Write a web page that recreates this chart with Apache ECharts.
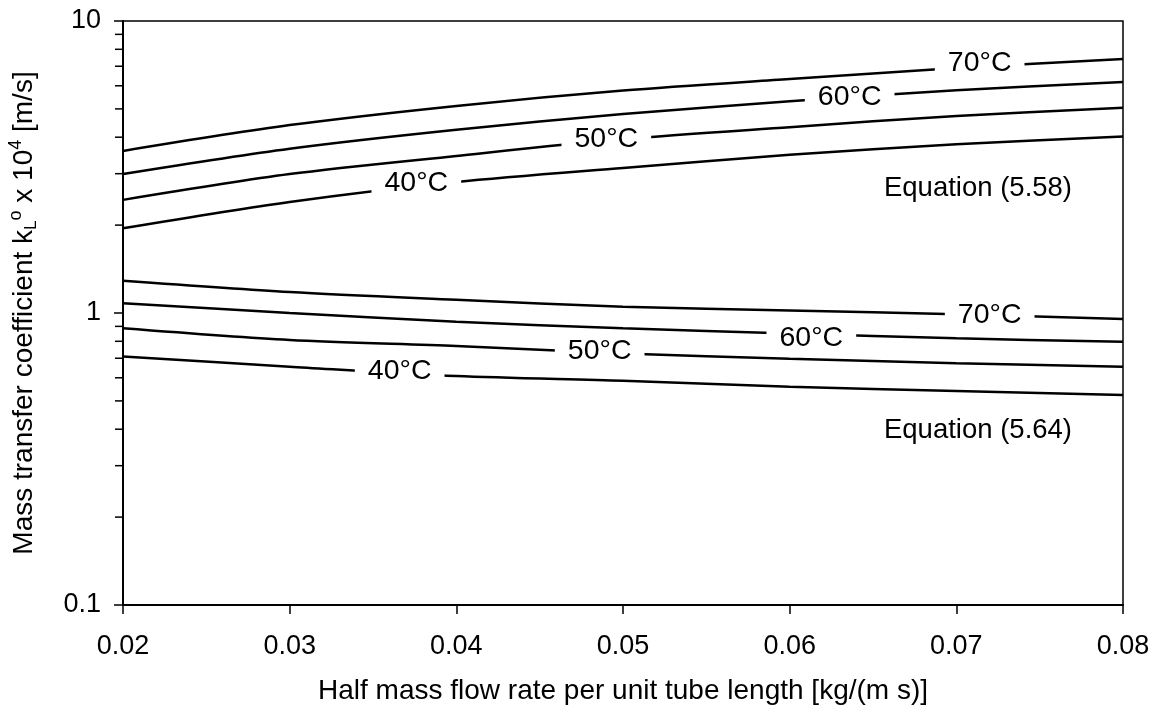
<!DOCTYPE html>
<html>
<head>
<meta charset="utf-8">
<script src="https://cdn.jsdelivr.net/npm/echarts@6/dist/echarts.min.js"></script>
<style>
  html, body { margin: 0; padding: 0; background: #fff; }
  #chart { width: 1161px; height: 707px; }
</style>
</head>
<body>
<div id="chart"></div>
<script>
// half mass flow rate per unit tube length [kg/(m s)]
var flowRate = [0.02, 0.03, 0.04, 0.05, 0.06, 0.07, 0.08];

// Equation (5.58), kL x 10^4 [m/s]
var eq558_70 = [3.59, 4.40, 5.12, 5.78, 6.33, 6.90, 7.41];
var eq558_60 = [2.99, 3.65, 4.24, 4.80, 5.31, 5.79, 6.18];
var eq558_50 = [2.44, 2.99, 3.45, 3.94, 4.33, 4.73, 5.05];
var eq558_40 = [1.95, 2.40, 2.81, 3.14, 3.48, 3.78, 4.02];

// Equation (5.64)
var eq564_70 = [1.29, 1.18, 1.11, 1.05, 1.02, 0.99, 0.954];
var eq564_60 = [1.08, 1.00, 0.934, 0.886, 0.851, 0.819, 0.797];
var eq564_50 = [0.886, 0.808, 0.771, 0.727, 0.697, 0.673, 0.655];
var eq564_40 = [0.709, 0.655, 0.608, 0.586, 0.559, 0.541, 0.524];

// minor ticks of the log axis
var minorTicks = [0.2, 0.3, 0.4, 0.5, 0.6, 0.7, 0.8, 0.9, 2, 3, 4, 5, 6, 7, 8, 9];

// inline curve labels: [x, y, text]
var curveLabels = [
  [0.0714, 7.17, '70°C'], [0.0636, 5.50, '60°C'], [0.0490, 3.93, '50°C'], [0.0376, 2.78, '40°C'],
  [0.0720, 0.984, '70°C'], [0.0613, 0.819, '60°C'], [0.0486, 0.743, '50°C'], [0.0366, 0.634, '40°C']
];
var eqLabels = [[0.0713, 2.68, 'Equation (5.58)'], [0.0713, 0.397, 'Equation (5.64)']];

var FONT = 'Liberation Sans, Arial, sans-serif';

function pairs(ys) {
  return flowRate.map(function (x, i) { return [x, ys[i]]; });
}
function curve(ys) {
  return {
    type: 'line', data: pairs(ys), smooth: 0.3, symbol: 'none', silent: true,
    lineStyle: { color: '#000', width: 2.5 }, z: 2
  };
}
function textMarks(list, size, box) {
  return {
    type: 'scatter', silent: true, z: 10, symbolSize: 1,
    itemStyle: { color: '#fff', opacity: 1 },
    emphasis: { disabled: true },
    data: list.map(function (d) { return { value: [d[0], d[1]], name: d[2] }; }),
    label: {
      show: true, position: 'inside', formatter: '{b}', opacity: 1,
      fontFamily: FONT, fontSize: size, color: '#000',
      backgroundColor: box ? '#fff' : 'transparent', padding: box ? [1, 13, 0, 13] : 0
    }
  };
}

var chart = echarts.init(document.getElementById('chart'), null, { renderer: 'canvas' });

chart.setOption({
  backgroundColor: '#fff',
  animation: false,
  grid: {
    left: 123, right: 38, top: 21, bottom: 102, show: true, borderColor: '#000', borderWidth: 1.5,
    containLabel: false, outerBoundsMode: 'none'
  },
  xAxis: {
    type: 'value', min: 0.02, max: 0.08, interval: 0.01,
    name: 'Half mass flow rate per unit tube length [kg/(m s)]',
    nameLocation: 'middle', nameGap: 72,
    nameTextStyle: { fontFamily: FONT, fontSize: 28, color: '#000' },
    axisLine: { lineStyle: { color: '#000', width: 2 } },
    axisTick: { inside: false, length: 9, lineStyle: { color: '#000', width: 1.5 } },
    axisLabel: { margin: 28, fontFamily: FONT, fontSize: 27, color: '#000', formatter: function (v) { return v.toFixed(2); } },
    splitLine: { show: false }
  },
  yAxis: {
    type: 'log', logBase: 10, min: 0.1, max: 10,
    name: '{t|Mass transfer coefficient k}{sub|L}{sup|o}{t| x 10}{sup|4}{t| [m/s]}',
    nameLocation: 'middle', nameGap: 80, nameRotate: 90,
    nameTextStyle: {
      fontFamily: FONT, fontSize: 28, color: '#000',
      rich: {
        t: { fontFamily: FONT, fontSize: 28, color: '#000', lineHeight: 38, verticalAlign: 'middle' },
        sub: { fontFamily: FONT, fontSize: 17, color: '#000', lineHeight: 38, verticalAlign: 'bottom', padding: [0, 0, 3, 0] },
        sup: { fontFamily: FONT, fontSize: 18, color: '#000', lineHeight: 38, verticalAlign: 'top', padding: [2, 0, 0, 0] }
      }
    },
    axisLine: { lineStyle: { color: '#000', width: 2 } },
    axisTick: { inside: false, length: 9, lineStyle: { color: '#000', width: 1.5 } },
    axisLabel: { margin: 22, fontFamily: FONT, fontSize: 27, color: '#000', formatter: function (v) { return String(+v.toPrecision(3)); } },
    splitLine: { show: false }
  },
  series: [
    curve(eq558_70), curve(eq558_60), curve(eq558_50), curve(eq558_40),
    curve(eq564_70), curve(eq564_60), curve(eq564_50), curve(eq564_40),
    {
      type: 'custom', silent: true, clip: false, z: 5,
      data: minorTicks,
      renderItem: function (params, api) {
        var p = api.coord([0.02, api.value(0)]);
        return {
          type: 'line',
          shape: { x1: p[0] - 8, y1: p[1], x2: p[0], y2: p[1] },
          style: { stroke: '#000', lineWidth: 1.5 }
        };
      }
    },
    textMarks(curveLabels, 28.5, true),
    textMarks(eqLabels, 27.5, false)
  ]
});
</script>
</body>
</html>
